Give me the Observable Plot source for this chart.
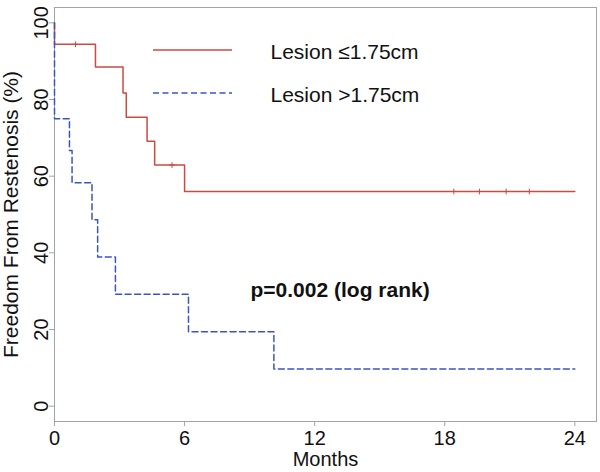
<!DOCTYPE html>
<html><head><meta charset="utf-8">
<script src="https://cdn.jsdelivr.net/npm/d3@7"></script>
<script src="https://cdn.jsdelivr.net/npm/@observablehq/plot@0.6"></script>
<style>body{margin:0;background:#fff} svg{display:block}</style>
</head><body><div id="chart"></div>
<script>
const seriesNames = ["Lesion ≤1.75cm", "Lesion >1.75cm"];
const smallTime = [0, 0, 1.89, 3.16, 3.31, 4.27, 4.62, 6.0, 24];
const smallSurv = [100, 94.4, 88.5, 81.7, 75.4, 69.1, 62.9, 56.0, 56.0];
const smallCensorTime = [0.97, 5.42, 18.42, 19.6, 20.83, 21.9];
const smallCensorSurv = [94.4, 62.9, 56, 56, 56, 56];
const largeTime = [0, 0, 0.69, 0.81, 1.73, 1.99, 2.81, 6.18, 10.12, 24];
const largeSurv = [100, 75, 66.7, 58.3, 48.6, 38.9, 29.2, 19.4, 9.7, 9.7];
const xTicks = [0, 6, 12, 18, 24];
const yTicks = [0, 20, 40, 60, 80, 100];
const pText = "p=0.002 (log rank)";
const xLabel = "Months";
const yLabel = "Freedom From Restenosis (%)";

const RED = "#cc4a42", BLUE = "#3b54c4", GRAY = "#a3a3a3", INK = "#111";
const small = smallTime.map((t, i) => ({t, s: smallSurv[i]}));
const large = largeTime.map((t, i) => ({t, s: largeSurv[i]}));
const cens = smallCensorTime.map((t, i) => ({t, s: smallCensorSurv[i]}));

const plot = Plot.plot({
  width: 600, height: 472,
  marginLeft: 54, marginRight: 4, marginTop: 7, marginBottom: 51,
  style: {fontFamily: "'Liberation Sans', Arial, sans-serif", background: "#fff", color: INK},
  x: {domain: [0, 25]},
  y: {domain: [-4, 104]},
  marks: [
    Plot.frame({stroke: GRAY, strokeWidth: 1}),
    Plot.axisX({ticks: xTicks, tickSize: 5, tickPadding: 4, fontSize: 20, label: null, stroke: GRAY, fill: INK, tickFormat: d => String(d)}),
    Plot.axisY({ticks: yTicks, tickSize: 5, tickFormat: () => "", label: null, stroke: GRAY}),
    Plot.text(yTicks, {x: 0, y: d => d, text: d => String(d), rotate: -90, dx: -7, lineAnchor: "bottom", textAnchor: "middle", fontSize: 20, fill: INK}),
    Plot.text([yLabel], {frameAnchor: "left", text: d => d, rotate: -90, dx: -37, lineAnchor: "bottom", textAnchor: "middle", fontSize: 21, fill: INK}),
    Plot.text([xLabel], {frameAnchor: "bottom", text: d => d, dy: 44.5, lineAnchor: "bottom", textAnchor: "middle", fontSize: 20, fill: INK}),
    Plot.line(small, {x: "t", y: "s", curve: "step-after", stroke: RED, strokeWidth: 1.5}),
    Plot.dot(cens, {x: "t", y: "s", symbol: "plus", r: 2, stroke: RED, strokeWidth: 1}),
    Plot.line(large, {x: "t", y: "s", curve: "step-after", stroke: BLUE, strokeWidth: 1.5, strokeDasharray: "6,3.5"}),
    Plot.text([seriesNames[0]], {frameAnchor: "top-left", text: d => d, dx: 216, dy: 44.6, lineAnchor: "middle", textAnchor: "start", fontSize: 21, fill: INK}),
    Plot.text([seriesNames[1]], {frameAnchor: "top-left", text: d => d, dx: 216, dy: 88, lineAnchor: "middle", textAnchor: "start", fontSize: 21, fill: INK}),
    Plot.text([pText], {frameAnchor: "top-left", text: d => d, dx: 196, dy: 283, lineAnchor: "middle", textAnchor: "start", fontSize: 21, fontWeight: "bold", fill: INK})
  ]
});

const svg = d3.select(plot);
svg.append("line").attr("x1", 153).attr("x2", 232).attr("y1", 50).attr("y2", 50)
  .attr("stroke", RED).attr("stroke-width", 1.5);
svg.append("line").attr("x1", 153).attr("x2", 232).attr("y1", 93).attr("y2", 93)
  .attr("stroke", BLUE).attr("stroke-width", 1.5).attr("stroke-dasharray", "6,3.5");

document.getElementById("chart").appendChild(plot);
</script>
</body></html>
